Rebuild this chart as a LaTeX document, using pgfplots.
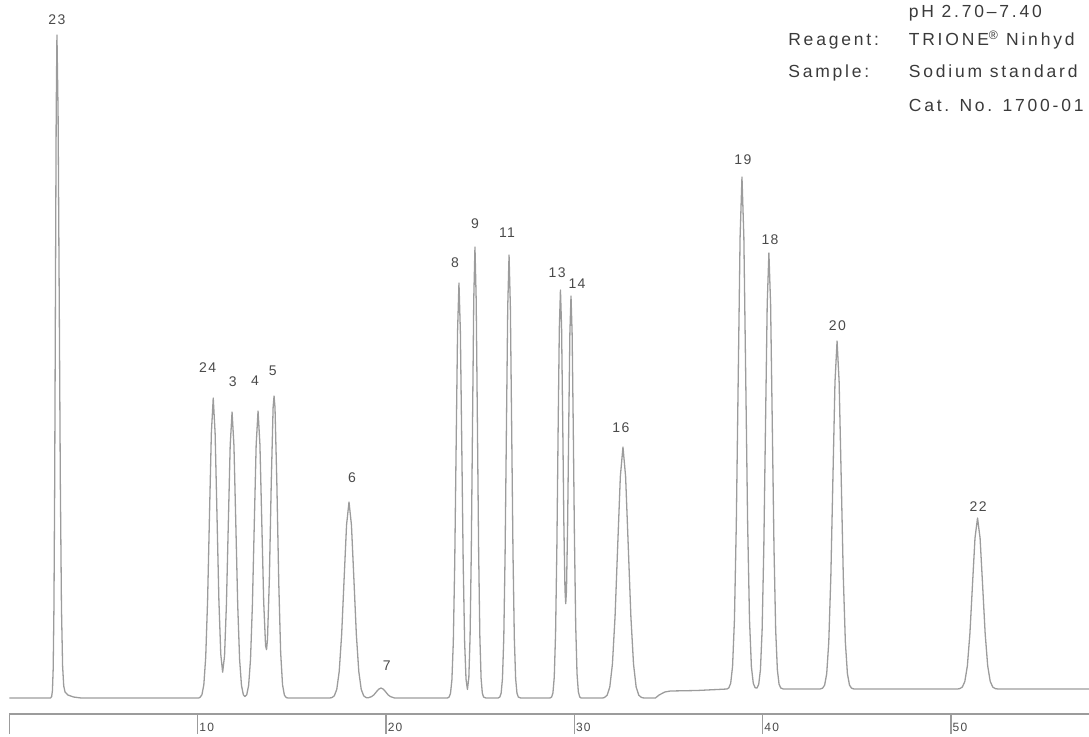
\documentclass[border=0pt]{standalone}
\usepackage{fontspec}
\setmainfont{Liberation Sans}
\newfontfamily\trk[LetterSpace=16]{Liberation Sans}
\newfontfamily\lbl[LetterSpace=10]{Liberation Sans}
\usepackage{pgfplots}
\pgfplotsset{compat=1.18}
\definecolor{curve}{HTML}{9C9C9C}
\definecolor{lab}{HTML}{4A4A4A}
\definecolor{txt}{HTML}{3A3A3A}
\pgfplotstableread{
t v
0 0
2.18 0
2.24 1.5
2.28 7.4
2.32 29
2.36 90
2.40 215
2.44 402
2.48 585
2.52 663
2.58 585
2.64 402
2.70 215
2.76 90
2.82 32
2.88 12
2.95 6
3.1 3
3.4 1
3.8 0
10.05 0
10.12 0.7
10.22 3.3
10.32 13.2
10.42 40.6
10.52 97.4
10.62 182
10.72 264.8
10.82 300
10.92 264.8
11.02 182.1
11.12 98
11.22 43.8
11.32 25.8
11.42 42.0
11.52 93.5
11.62 173.6
11.72 252.4
11.82 286
11.92 252.4
12.02 173.5
12.12 92.9
12.22 38.7
12.32 12.6
12.42 3.2
12.5 1.5
12.6 3.3
12.7 12.6
12.8 38.8
12.9 93.2
13.0 174.1
13.1 253.3
13.2 287
13.3 253.4
13.4 174.5
13.5 96.0
13.6 52.1
13.65 48.4
13.7 58.2
13.8 118.3
13.9 214.1
14.0 290.6
14.05 302
14.1 290.6
14.2 213.5
14.3 115.1
14.4 45.6
14.5 13.3
14.6 2.8
14.7 0.4
14.8 0
17.0 0
17.12 0.4
17.25 2.2
17.38 8.6
17.51 26.5
17.64 63.6
17.77 118.9
17.90 173.0
18.03 196
18.16 173.0
18.29 118.9
18.42 63.6
18.55 26.5
18.68 8.6
18.81 2.2
18.94 0.4
19.05 0.2
19.23 1.4
19.355 3.2
19.48 6.1
19.605 8.8
19.73 10
19.855 8.8
19.98 6.1
20.105 3.2
20.23 1.4
20.45 0
23.25 0
23.345 0.9
23.42 4.6
23.495 18.2
23.57 56.1
23.645 134.7
23.72 251.7
23.795 366.2
23.87 415
23.945 366.2
24.02 251.7
24.095 134.7
24.17 56.2
24.245 18.8
24.32 8.6
24.395 20.7
24.46 61.2
24.525 146.4
24.59 273.5
24.655 398.0
24.72 451
24.785 398.0
24.85 273.5
24.915 146.4
24.98 61.0
25.045 19.8
25.11 5.0
25.175 1.0
25.3 0
25.95 0
26.04 1.0
26.11 4.9
26.18 19.4
26.25 59.9
26.32 143.8
26.39 268.7
26.46 391.0
26.53 443
26.60 391.0
26.67 268.7
26.74 143.8
26.81 59.9
26.88 19.4
26.95 4.9
27.02 1.0
27.15 0
28.70 0
28.79 0.95
28.86 5.1
28.93 20.6
29.00 63.9
29.07 151.6
29.14 274.9
29.20 369.7
29.26 408
29.32 370.1
29.38 276.9
29.44 175.4
29.50 108.2
29.54 94.3
29.58 107.4
29.64 173.0
29.70 272.8
29.76 364.6
29.82 402
29.88 364.2
29.94 270.8
30.00 165.2
30.07 72.4
30.14 24.2
30.21 6.2
30.28 1.2
30.35 0
31.50 0
31.60 0.55
31.74 2.8
31.88 11.0
32.02 34.0
32.16 81.5
32.30 152.2
32.44 221.5
32.58 251
32.72 221.5
32.86 152.2
33.00 81.5
33.14 34.0
33.28 11.0
33.42 2.8
33.56 0.55
33.70 0
34.30 0
34.50 3
34.80 6
35.10 7
36.50 7.5
37.80 8.7
38.10 9
38.2 10.1
38.3 14.7
38.4 31.5
38.5 78.3
38.6 175.2
38.7 319.5
38.8 460.8
38.9 521
39.0 460.8
39.1 319.5
39.2 175.2
39.3 78.3
39.4 31.5
39.5 14.7
39.6 10.2
39.70 10.0
39.79 13.8
39.88 28.1
39.97 68.0
40.06 150.6
40.15 273.4
40.24 393.8
40.33 445
40.42 393.8
40.51 273.4
40.60 150.6
40.69 68.0
40.78 28.1
40.87 13.8
40.96 10.0
41.10 9
43.05 9
43.18 9.8
43.29 12.9
43.40 24.3
43.51 56.1
43.62 122.0
43.73 220.1
43.84 316.1
43.95 357
44.06 316.1
44.17 220.1
44.28 122.0
44.39 56.1
44.50 24.3
44.61 12.9
44.72 9.8
44.85 9
50.35 9
50.465 9.4
50.60 10.9
50.735 16.5
50.87 32.1
51.005 64.5
51.14 112.7
51.275 159.9
51.41 180
51.545 159.9
51.68 112.7
51.815 64.5
51.95 32.1
52.085 16.5
52.22 10.9
52.355 9.4
52.50 9
57.33 9
}\chrom
\begin{document}
\begin{tikzpicture}
\begin{axis}[
  scale only axis, width=1079.5pt, height=714pt,
  xmin=0, xmax=57.33, ymin=-16, ymax=698,
  axis x line*=bottom, axis y line=none,
  x axis line style={curve, line width=1.2pt, -},
  xtick={0,10,20,30,40,50}, xticklabels={,10,20,30,40,50},
  tick align=outside, major tick length=20pt,
  tick style={curve, line width=1.2pt},
  xticklabel style={anchor=north west, inner sep=0pt, font=\lbl\fontsize{12}{12}\selectfont, text=lab, xshift=1.5pt, yshift=11pt},
  ytick=\empty, clip=false,
]
\addplot[curve, line width=1.3pt, line join=round] table[x=t, y=v] {\chrom};
\begin{scope}[every node/.style={font=\lbl\fontsize{14}{14}\selectfont, text=lab, inner sep=0pt}]
\node at (axis cs:2.52,678) {23};
\node at (axis cs:10.52,330) {24};
\node at (axis cs:11.86,316) {3};
\node at (axis cs:13.04,317) {4};
\node at (axis cs:13.98,327) {5};
\node at (axis cs:18.19,220) {6};
\node at (axis cs:20.03,32) {7};
\node at (axis cs:23.66,435) {8};
\node at (axis cs:24.72,474) {9};
\node at (axis cs:26.42,465) {11};
\node at (axis cs:29.08,425) {13};
\node at (axis cs:30.14,414) {14};
\node at (axis cs:32.47,270) {16};
\node at (axis cs:38.95,538) {19};
\node at (axis cs:40.39,458) {18};
\node at (axis cs:43.97,372) {20};
\node at (axis cs:51.44,191) {22};
\end{scope}
\begin{scope}[every node/.style={font=\trk\fontsize{17.5}{17.5}\selectfont, text=txt, inner sep=0pt, anchor=base west}]
\node at (axis cs:47.75,680) {pH 2.70–7.40};
\node at (axis cs:41.35,652) {Reagent:};
\node at (axis cs:47.75,652) {TRIONE\textsuperscript{®} Ninhyd};
\node at (axis cs:41.35,620) {Sample:};
\node at (axis cs:47.75,620) {Sodium standard};
\node at (axis cs:47.75,586) {Cat. No. 1700-01};
\end{scope}
\end{axis}
\pgfresetboundingbox
\path[use as bounding box] ([shift={(-9.5pt,-22pt)}]current axis.south west) rectangle (current axis.north east);
\end{tikzpicture}
\end{document}
